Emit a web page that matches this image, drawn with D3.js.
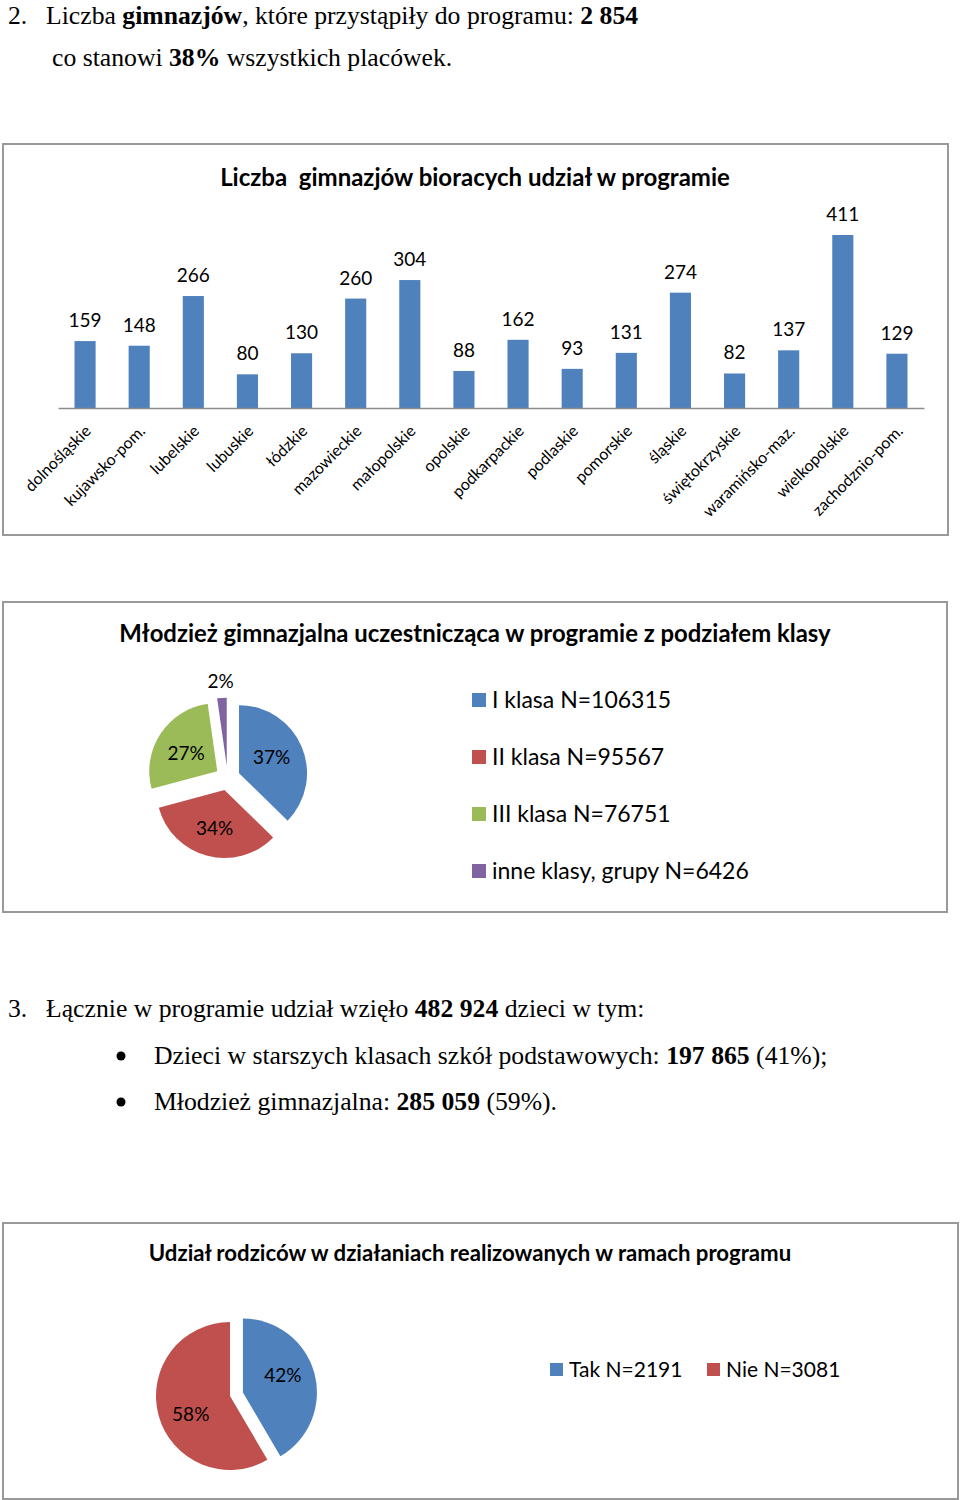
<!DOCTYPE html>
<html lang="pl">
<head>
<meta charset="UTF-8">
<title>Gimnazja w programie</title>
<style>
  body { margin: 0; background: #fff; }
  .serif { font-family: "Liberation Serif", "Times New Roman", serif; fill: #000; }
  .sans { font-family: Lato, "Open Sans", sans-serif; fill: #000; }
  .frame { fill: #fff; stroke: #999; stroke-width: 2px; }
</style>
</head>
<body>
<div id="page"></div>
<script src="https://cdn.jsdelivr.net/npm/d3@7"></script>
<script>
// --- data ---
var regions = ["dolnośląskie", "kujawsko-pom.", "lubelskie", "lubuskie", "łódzkie",
  "mazowieckie", "małopolskie", "opolskie", "podkarpackie", "podlaskie", "pomorskie",
  "śląskie", "świętokrzyskie", "waramińsko-maz.", "wielkopolskie", "zachodznio-pom."];
var schools = [159, 148, 266, 80, 130, 260, 304, 88, 162, 93, 131, 274, 82, 137, 411, 129];

var classLabels = ["I klasa N=106315", "II klasa N=95567", "III klasa N=76751", "inne klasy, grupy N=6426"];
var classCounts = [106315, 95567, 76751, 6426];

var parentLabels = ["Tak N=2191", "Nie N=3081"];
var parentCounts = [2191, 3081];

var colors = ["#4F81BD", "#C0504D", "#9BBB59", "#8064A2"];

var svg = d3.select("#page").append("svg")
  .attr("width", 960)
  .attr("height", 1500);

// --- body text ---
function textLine(x, y, parts) {
  var t = svg.append("text").attr("class", "serif").attr("x", x).attr("y", y)
    .style("font-size", "25.7px");
  parts.forEach(function (p) {
    t.append("tspan").text(p[0]).style("font-weight", p[1] ? "bold" : "normal");
  });
  return t;
}

textLine(8, 24, [["2.", false]]);
textLine(46, 24, [["Liczba ", false], ["gimnazjów", true], [", które przystąpiły do programu: ", false], ["2 854", true]]);
textLine(52, 66, [["co stanowi ", false], ["38%", true], [" wszystkich placówek.", false]]);

textLine(8, 1017, [["3.", false]]);
textLine(46, 1017, [["Łącznie w programie udział wzięło ", false], ["482 924", true], [" dzieci w tym:", false]]);
svg.append("circle").attr("cx", 121).attr("cy", 1056).attr("r", 4.5).attr("fill", "#000");
textLine(154, 1064, [["Dzieci w starszych klasach szkół podstawowych: ", false], ["197 865", true], [" (41%);", false]]);
svg.append("circle").attr("cx", 121).attr("cy", 1102).attr("r", 4.5).attr("fill", "#000");
textLine(154, 1110, [["Młodzież gimnazjalna: ", false], ["285 059", true], [" (59%).", false]]);

// --- chart frames ---
svg.append("rect").attr("class", "frame").attr("x", 3).attr("y", 144).attr("width", 945).attr("height", 391);
svg.append("rect").attr("class", "frame").attr("x", 3).attr("y", 602).attr("width", 944).attr("height", 310);
svg.append("rect").attr("class", "frame").attr("x", 3).attr("y", 1223).attr("width", 955).attr("height", 276);

function title(x, y, txt, size) {
  svg.append("text").attr("class", "sans")
    .attr("x", x).attr("y", y)
    .attr("text-anchor", "middle")
    .style("font-size", size + "px")
    .style("font-weight", "bold")
    .style("white-space", "pre")
    .text(txt);
}

// --- bar chart ---
title(475, 186, "Liczba  gimnazjów bioracych udział w programie", 24);

var x = d3.scaleBand()
  .domain(regions)
  .range([58, 924])
  .paddingInner(0.61)
  .paddingOuter(0.305);

var y = d3.scaleLinear()
  .domain([0, 450])
  .range([408, 218.6]);

var bars = svg.append("g");
bars.selectAll("rect")
  .data(schools)
  .enter()
  .append("rect")
  .attr("x", function (d, i) { return x(regions[i]); })
  .attr("y", function (d) { return y(d); })
  .attr("width", x.bandwidth())
  .attr("height", function (d) { return y(0) - y(d); })
  .attr("fill", colors[0]);

bars.selectAll("text")
  .data(schools)
  .enter()
  .append("text")
  .attr("class", "sans")
  .attr("x", function (d, i) { return x(regions[i]) + x.bandwidth() / 2; })
  .attr("y", function (d) { return y(d) - 14; })
  .attr("text-anchor", "middle")
  .style("font-size", "19px")
  .text(function (d) { return d; });

var xAxis = svg.append("g")
  .attr("transform", "translate(0,408)")
  .call(d3.axisBottom(x).tickSize(0).tickSizeOuter(0));
xAxis.select(".domain").attr("stroke", "#8c8c8c").attr("stroke-width", 1.5);
xAxis.selectAll(".tick text")
  .attr("class", "sans")
  .style("font-size", "16px")
  .style("font-family", "Lato, 'Open Sans', sans-serif")
  .attr("fill", "#000")
  .attr("text-anchor", "end")
  .attr("x", 0)
  .attr("y", 0)
  .attr("dy", 0)
  .attr("transform", "translate(7,24) rotate(-45)");

// --- pie helpers ---
function explodedPie(cx, cy, r, counts, explode, labelPos, labelShift) {
  var pie = d3.pie().sort(null).value(function (d) { return d; });
  var arcs = pie(counts);
  var total = d3.sum(counts);
  var arc = d3.arc().innerRadius(0).outerRadius(r);
  var g = svg.append("g").attr("transform", "translate(" + cx + "," + cy + ")");
  arcs.forEach(function (a, i) {
    var mid = (a.startAngle + a.endAngle) / 2;
    var ox = explode[i] * Math.sin(mid), oy = -explode[i] * Math.cos(mid);
    g.append("path")
      .attr("d", arc(a))
      .attr("fill", colors[i])
      .attr("transform", "translate(" + ox + "," + oy + ")");
    var lr = labelPos[i] * r;
    g.append("text")
      .attr("class", "sans")
      .attr("x", ox + lr * Math.sin(mid))
      .attr("y", oy - lr * Math.cos(mid) + labelShift[i])
      .attr("dy", "0.35em")
      .attr("text-anchor", "middle")
      .style("font-size", "19px")
      .attr("fill", "#1b1b1b")
      .text(Math.round(a.value / total * 100) + "%");
  });
}

// --- pie 1: classes ---
title(475, 642, "Młodzież gimnazjalna uczestnicząca w programie z podziałem klasy", 23.9);
explodedPie(227.6, 778, 68, classCounts, [12.4, 12.4, 12.4, 12.4], [0.52, 0.58, 0.55, 1.25], [-2, 0, 3, 0]);

var leg1 = svg.append("g");
classLabels.forEach(function (lab, i) {
  var yy = 700 + i * 57;
  leg1.append("rect").attr("x", 472).attr("y", yy - 7).attr("width", 14).attr("height", 14).attr("fill", colors[i]);
  leg1.append("text").attr("class", "sans").attr("x", 492).attr("y", yy).attr("dy", "0.36em")
    .style("font-size", "23px").text(lab);
});

// --- pie 2: parents ---
title(470, 1261, "Udział rodziców w działaniach realizowanych w ramach programu", 22.2);
explodedPie(230, 1396, 74, parentCounts, [13.4, 0], [0.56, 0.55], [-6, 8]);

var legX = [550, 707];
parentLabels.forEach(function (lab, i) {
  svg.append("rect").attr("x", legX[i]).attr("y", 1363).attr("width", 13).attr("height", 13).attr("fill", colors[i]);
  svg.append("text").attr("class", "sans").attr("x", legX[i] + 19).attr("y", 1369.5).attr("dy", "0.36em")
    .style("font-size", "21px").text(lab);
});
</script>
</body>
</html>
